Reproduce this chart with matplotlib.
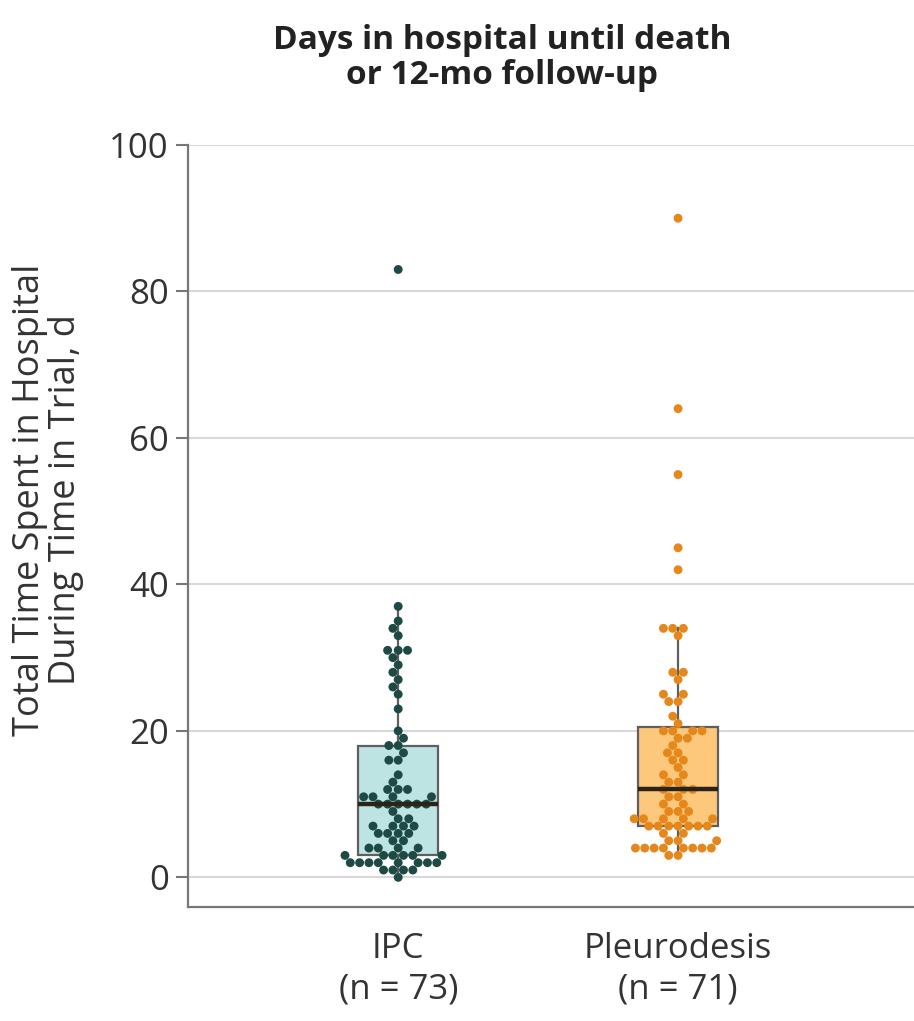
import matplotlib
matplotlib.use("Agg")
import matplotlib.pyplot as plt
import numpy as np
import pandas as pd
import seaborn as sns

# ---------------- data ----------------
groups = ["IPC", "Pleurodesis"]
tick_labels = ["IPC\n(n = 73)", "Pleurodesis\n(n = 71)"]

ipc_days = ([0] + [1] * 4 + [2] * 8 + [3] * 6 + [4] * 4 + [5] * 2 + [6] * 4 + [7] * 4
            + [8] * 2 + [9] + [10] * 6 + [11] * 4 + [12] * 3 + [13] + [14] + [16] * 2
            + [17] + [18] * 2
            + [19, 20, 23, 25, 26, 27, 28, 29, 30, 31, 31, 31, 33, 34, 35, 37, 83])

pleuro_days = ([3] * 2 + [4] * 8 + [5] * 3 + [6] * 2 + [7] * 7 + [8] * 5 + [9] * 3
               + [10] * 2 + [11] * 2 + [12] * 3 + [13] * 2 + [14] * 2 + [15] + [16] * 2
               + [17] * 2 + [18] + [19] * 2 + [20] * 4 + [21] + [22] + [24] * 2 + [25] * 2
               + [27] + [28] * 2 + [33] + [34] * 3 + [42, 45, 55, 64, 90])

title = "Days in hospital until death\nor 12-mo follow-up"
ylabel = "Total Time Spent in Hospital\nDuring Time in Trial, d"
yticks = [0, 20, 40, 60, 80, 100]

dot_colors = ["#1e4a45", "#e5871a"]
box_colors = ["#bde4e2", "#fdc87c"]

# ---------------- plot ----------------
df = pd.DataFrame({
    "group": ["IPC"] * len(ipc_days) + ["Pleurodesis"] * len(pleuro_days),
    "days": ipc_days + pleuro_days,
})

plt.rcParams["font.family"] = ["Open Sans", "DejaVu Sans"]

fig = plt.figure(figsize=(9.14, 10.21), dpi=100)
ax = fig.add_axes([0.206, 0.112, 0.794, 0.746])

ax.set_ylim(-4, 100)

for i, data in enumerate([ipc_days, pleuro_days]):
    bp = ax.boxplot([data], positions=[i], widths=0.285, patch_artist=True,
                    showfliers=False, showcaps=False, whis=1.5, manage_ticks=False)
    for b in bp["boxes"]:
        b.set_facecolor(box_colors[i])
        b.set_edgecolor("#5f5f5f")
        b.set_linewidth(1.6)
        b.set_zorder(2)
    for w in bp["whiskers"]:
        w.set_color("#5f5f5f")
        w.set_linewidth(1.6)
        w.set_zorder(2)
    for m in bp["medians"]:
        m.set_color("#2a2418")
        m.set_linewidth(3.2)
        m.set_zorder(5)

sns.swarmplot(data=df, x="group", y="days", order=groups, hue="group",
              palette=dict(zip(groups, dot_colors)), size=6.4, ax=ax,
              legend=False, zorder=4, linewidth=0)

ax.set_xlim(-0.75, 1.843)
ax.set_ylim(-4, 100)
ax.set_yticks(yticks)
ax.set_yticklabels([str(t) for t in yticks], fontsize=25, color="#333333")
ax.set_xticks([0, 1])
ax.set_xticklabels(tick_labels, fontsize=25, color="#333333", linespacing=1.25)
ax.tick_params(axis="x", length=0, pad=18)
ax.tick_params(axis="y", length=9, width=1.5, color="#777777", pad=5, direction="out")
ax.set_xlabel("")
ax.set_ylabel(ylabel, fontsize=26, color="#333333", linespacing=1.0,
              ha="center", va="center")
ax.yaxis.set_label_coords(-0.1935, 0.534)

ax.grid(axis="y", color="#d8d8d8", linewidth=1.5, zorder=0)
ax.set_axisbelow(True)
for s in ["top", "right"]:
    ax.spines[s].set_visible(False)
for s in ["left", "bottom"]:
    ax.spines[s].set_color("#777777")
    ax.spines[s].set_linewidth(1.6)

fig.text(0.549, 0.943, title, ha="center", va="center", fontsize=24,
         fontweight="bold", color="#222222", linespacing=1.08)

fig.savefig("out.png", dpi=100, facecolor="white")
